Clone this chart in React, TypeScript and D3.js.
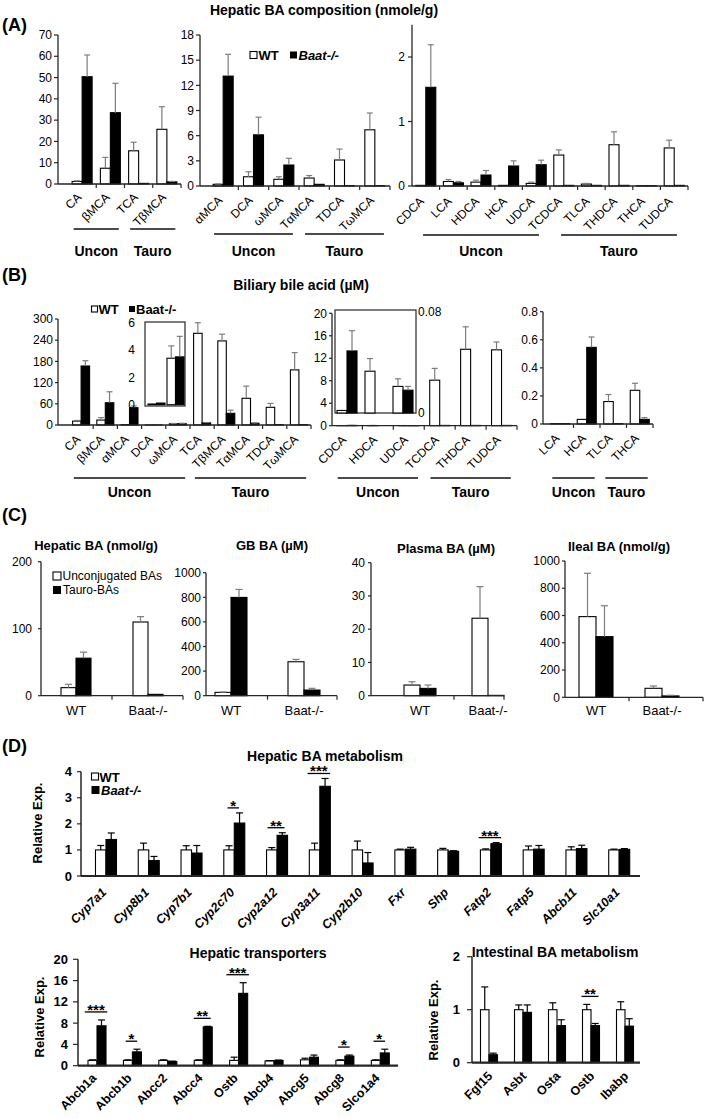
import React from "react";
import * as d3 from "d3";

const FONT = "'Liberation Sans', Arial, Helvetica, sans-serif";
const ERR_GRAY = "#7d7d7d";
const AXIS = "#262626";

// ===== Panel A: hepatic BA composition (nmole/g)
const a1Cats = ["CA", "βMCA", "TCA", "TβMCA"];
const a1WT = [1.2, 7.4, 15.6, 25.7];
const a1WTsem = [0.3, 5.1, 4.0, 10.6];
const a1KO = [50.4, 33.5, 0.3, 1.0];
const a1KOsem = [10.2, 13.8, 0, 0.2];
const a1Ticks = [0, 10, 20, 30, 40, 50, 60, 70];

const a2Cats = ["αMCA", "DCA", "ωMCA", "TαMCA", "TDCA", "TωMCA"];
const a2WT = [0.2, 1.1, 0.8, 0.95, 3.1, 6.7];
const a2WTsem = [0.05, 0.6, 0.3, 0.3, 1.3, 2.0];
const a2KO = [13.1, 6.1, 2.5, 0.2, 0.05, 0.05];
const a2KOsem = [2.6, 2.1, 0.8, 0, 0, 0];
const a2Ticks = [0, 3, 6, 9, 12, 15, 18];

const a3Cats = ["CDCA", "LCA", "HDCA", "HCA", "UDCA", "TCDCA", "TLCA", "THDCA", "THCA", "TUDCA"];
const a3WT = [0.01, 0.07, 0.06, 0.01, 0.04, 0.48, 0.03, 0.64, 0.005, 0.59];
const a3WTsem = [0, 0.03, 0.03, 0, 0.02, 0.08, 0.01, 0.2, 0, 0.12];
const a3KO = [1.53, 0.05, 0.17, 0.31, 0.33, 0.01, 0.01, 0.01, 0.005, 0.01];
const a3KOsem = [0.66, 0.02, 0.07, 0.08, 0.07, 0, 0, 0, 0, 0];
const a3Ticks = [0, 1, 2];

// ===== Panel B: biliary bile acid (µM)
const b1Cats = ["CA", "βMCA", "αMCA", "DCA", "ωMCA", "TCA", "TβMCA", "TαMCA", "TDCA", "TωMCA"];
const b1WT = [11, 14, 1, 0.05, 3.4, 259.5, 238, 75.5, 50, 156];
const b1WTsem = [2, 7, 0, 0, 0.9, 30, 19, 34.5, 11, 49];
const b1KO = [167, 63, 49, 0.12, 3.5, 6, 33, 5, 1, 1];
const b1KOsem = [15, 31, 5, 0, 1.5, 1, 9, 1, 0, 0];
const b1Ticks = [0, 60, 120, 180, 240, 300];
const b1InsetCats = ["DCA", "ωMCA"];
const b1InsetTicks = [0, 2, 4, 6];

const b2Cats = ["CDCA", "HDCA", "UDCA", "TCDCA", "THDCA", "TUDCA"];
const b2WT = [0.002, 0.033, 0.021, 8.1, 13.6, 13.5];
const b2WTsem = [0, 0.01, 0.006, 2.1, 4.0, 1.4];
const b2KO = [0.049, 0, 0.018, 0.05, 0.05, 0.05];
const b2KOsem = [0.016, 0, 0.003, 0, 0, 0];
const b2Ticks = [0, 4, 8, 12, 16, 20];
const b2InsetCats = ["CDCA", "HDCA", "UDCA"];
const b2InsetTicks = [0, 0.08];

const b3Cats = ["LCA", "HCA", "TLCA", "THCA"];
const b3WT = [0.003, 0.033, 0.16, 0.24];
const b3WTsem = [0, 0, 0.05, 0.05];
const b3KO = [0.003, 0.546, 0.003, 0.033];
const b3KOsem = [0, 0.074, 0, 0.012];
const b3Ticks = [0, 0.2, 0.4, 0.6, 0.8];

// ===== Panel C: totals (Unconjugated vs Tauro)
const cGroups = ["WT", "Baat-/-"];
const cHepUncon = [12, 110];
const cHepUnconSem = [5, 8];
const cHepTauro = [56, 2];
const cHepTauroSem = [9, 0];
const cHepTicks = [0, 100, 200];

const cGbUncon = [27, 276];
const cGbUnconSem = [3, 19];
const cGbTauro = [799, 46];
const cGbTauroSem = [65, 14];
const cGbTicks = [0, 200, 400, 600, 800, 1000];

const cPlUncon = [3.2, 23.3];
const cPlUnconSem = [1.0, 9.5];
const cPlTauro = [2.2, 0.1];
const cPlTauroSem = [1.0, 0];
const cPlTicks = [0, 10, 20, 30, 40];

const cIlUncon = [592, 66];
const cIlUnconSem = [318, 17];
const cIlTauro = [445, 10];
const cIlTauroSem = [227, 5];
const cIlTicks = [0, 200, 400, 600, 800, 1000];

// ===== Panel D: relative expression
const d1Genes = ["Cyp7a1", "Cyp8b1", "Cyp7b1", "Cyp2c70", "Cyp2a12", "Cyp3a11", "Cyp2b10", "Fxr", "Shp", "Fatp2", "Fatp5", "Abcb11", "Slc10a1"];
const d1WT = [1, 1, 1, 1, 1, 1, 1, 1, 1, 1, 1, 1, 1];
const d1WTsem = [0.17, 0.26, 0.16, 0.16, 0.09, 0.26, 0.34, 0.03, 0.06, 0.04, 0.15, 0.12, 0.03];
const d1KO = [1.4, 0.59, 0.88, 2.03, 1.56, 3.44, 0.5, 1.03, 0.95, 1.24, 1.03, 1.05, 1.02];
const d1KOsem = [0.25, 0.16, 0.29, 0.39, 0.1, 0.3, 0.4, 0.07, 0.02, 0.04, 0.14, 0.13, 0.03];
const d1Sig = ["", "", "", "*", "**", "***", "", "", "", "***", "", "", ""];
const d1Ticks = [0, 1, 2, 3, 4];

const d2Genes = ["Abcb1a", "Abcb1b", "Abcc2", "Abcc4", "Ostb", "Abcb4", "Abcg5", "Abcg8", "Slco1a4"];
const d2WT = [1, 1, 1, 1, 1, 0.9, 1.1, 1, 1];
const d2WTsem = [0.1, 0.1, 0.1, 0.1, 0.6, 0.05, 0.3, 0.1, 0.1];
const d2KO = [7.5, 2.6, 0.8, 7.3, 13.6, 1.0, 1.6, 1.8, 2.4];
const d2KOsem = [1.1, 0.5, 0.05, 0.1, 2.0, 0.05, 0.4, 0.2, 0.7];
const d2Sig = ["***", "*", "", "**", "***", "", "", "*", "*"];
const d2Ticks = [0, 4, 8, 12, 16, 20];

const d3Genes = ["Fgf15", "Asbt", "Osta", "Ostb", "Ibabp"];
const d3WT = [1, 1, 1, 1, 1];
const d3WTsem = [0.43, 0.09, 0.13, 0.1, 0.15];
const d3KO = [0.15, 0.95, 0.7, 0.7, 0.69];
const d3KOsem = [0.03, 0.14, 0.11, 0.04, 0.14];
const d3Sig = ["", "", "", "**", ""];
const d3Ticks = [0, 1, 2];

type BarProps = {
  cats: string[];
  wt: number[];
  wtSem: number[];
  ko: number[];
  koSem: number[];
  band: [number, number];
  axisX?: number;
  axisEnd?: number;
  base: number;
  top: number;
  max: number;
  ticks?: number[];
  fmt?: (d: number) => string;
  barW: number;
  errColor?: string;
  capW?: number;
  tickFont?: number;
  tickBold?: boolean;
  tickLen?: number;
  tickGap?: number;
  labelMode?: "rot" | "flat" | "none";
  labelFont?: number;
  labelBold?: boolean;
  labelItalic?: boolean;
  labelDx?: number;
  labelDy?: number;
  boundary?: "bands" | "mid" | "none";
  showY?: boolean;
  showX?: boolean;
  xAxisW?: number;
  yAxisW?: number;
  sig?: string[];
  sigGap?: number;
};

function BarChart(p: BarProps) {
  const y = d3.scaleLinear().domain([0, p.max]).range([p.base, p.top]);
  const x = d3.scaleBand<string>().domain(p.cats).range(p.band);
  const bw = x.bandwidth();
  const cx = (c: string) => (x(c) as number) + bw / 2;
  const fmt = p.fmt ?? ((d: number) => String(d));
  const errColor = p.errColor ?? ERR_GRAY;
  const capW = p.capW ?? 6;
  const tickLen = p.tickLen ?? 4;
  const tickGap = p.tickGap ?? 6;
  const axisX = p.axisX ?? p.band[0];
  const axisEnd = p.axisEnd ?? p.band[1];
  const showY = p.showY ?? true;
  const showX = p.showX ?? true;
  const labelMode = p.labelMode ?? "rot";
  const boundary = p.boundary ?? "bands";
  const series = [
    { key: "wt", vals: p.wt, sem: p.wtSem, fill: "#ffffff", off: -p.barW },
    { key: "ko", vals: p.ko, sem: p.koSem, fill: "#000000", off: 0 },
  ];
  let bTicks: number[] = [];
  if (boundary === "bands") bTicks = p.cats.map((c) => (x(c) as number) + bw);
  if (boundary === "mid") {
    bTicks = p.cats.slice(1).map((c, i) => (cx(p.cats[i]) + cx(c)) / 2);
    bTicks.push(axisEnd);
  }
  return (
    <g>
      {series.map((s) =>
        p.cats.map((c, i) => {
          const v = s.vals[i];
          return (
            <rect
              key={s.key + i}
              x={cx(c) + s.off}
              y={y(v)}
              width={p.barW}
              height={Math.max(0, p.base - y(v))}
              fill={s.fill}
              stroke="#000"
              strokeWidth={1.1}
            />
          );
        })
      )}
      {series.map((s) =>
        p.cats.map((c, i) => {
          const v = s.vals[i];
          const e = s.sem[i];
          if (!(e > 0)) return null;
          const xc = cx(c) + s.off + p.barW / 2;
          return (
            <g key={"e" + s.key + i} stroke={errColor} strokeWidth={1.2}>
              <line x1={xc} x2={xc} y1={y(v)} y2={y(v + e)} />
              <line x1={xc - capW / 2} x2={xc + capW / 2} y1={y(v + e)} y2={y(v + e)} />
            </g>
          );
        })
      )}
      {p.sig &&
        p.cats.map((c, i) => {
          const s = p.sig![i];
          if (!s) return null;
          const t = Math.min(y(p.wt[i] + p.wtSem[i]), y(p.ko[i] + p.koSem[i]));
          const ly = t - (p.sigGap ?? 5);
          const w = 6 + 5.5 * s.length;
          const xc = cx(c) - 1;
          return (
            <g key={"s" + i}>
              <line x1={xc - w / 2} x2={xc + w / 2} y1={ly} y2={ly} stroke="#000" strokeWidth={1.3} />
              <text x={xc} y={ly + 3} textAnchor="middle" fontSize={15} fontWeight="bold">
                {s}
              </text>
            </g>
          );
        })}
      {showY && (
        <g>
          <line x1={axisX} x2={axisX} y1={p.base} y2={p.top} stroke={AXIS} strokeWidth={p.yAxisW ?? 1.3} />
          {(p.ticks ?? []).map((t) => (
            <g key={"t" + t}>
              <line x1={axisX - tickLen} x2={axisX} y1={y(t)} y2={y(t)} stroke={AXIS} strokeWidth={1.2} />
              <text
                x={axisX - tickGap}
                y={y(t)}
                dy="0.35em"
                textAnchor="end"
                fontSize={p.tickFont ?? 12}
                fontWeight={p.tickBold ? "bold" : "normal"}
              >
                {fmt(t)}
              </text>
            </g>
          ))}
        </g>
      )}
      {showX && (
        <g>
          <line x1={axisX} x2={axisEnd} y1={p.base} y2={p.base} stroke={AXIS} strokeWidth={p.xAxisW ?? 1.3} />
          {bTicks.map((bx, i) => (
            <line key={"bt" + i} x1={bx} x2={bx} y1={p.base} y2={p.base + 4} stroke={AXIS} strokeWidth={1.2} />
          ))}
        </g>
      )}
      {labelMode === "rot" &&
        p.cats.map((c) => (
          <text
            key={"l" + c}
            transform={`translate(${cx(c) + (p.labelDx ?? -3)},${p.base + (p.labelDy ?? 12)}) rotate(-45)`}
            dy="0.35em"
            textAnchor="end"
            fontSize={p.labelFont ?? 12}
            fontWeight={p.labelBold ? "bold" : "normal"}
            fontStyle={p.labelItalic ? "italic" : "normal"}
          >
            {c}
          </text>
        ))}
      {labelMode === "flat" &&
        p.cats.map((c) => (
          <text
            key={"l" + c}
            x={cx(c)}
            y={p.base + (p.labelDy ?? 14.5)}
            dy="0.35em"
            textAnchor="middle"
            fontSize={p.labelFont ?? 13}
          >
            {c}
          </text>
        ))}
    </g>
  );
}

function Brackets(p: { cats: string[]; band: [number, number]; lineY: number; textY: number; inset: number }) {
  const x = d3.scaleBand<string>().domain(p.cats).range(p.band);
  const bw = x.bandwidth();
  const grp = (c: string) => (c.startsWith("T") ? "Tauro" : "Uncon");
  const names = ["Uncon", "Tauro"];
  return (
    <g>
      {names.map((g) => {
        const members = p.cats.filter((c) => grp(c) === g);
        if (!members.length) return null;
        const x0 = (x(members[0]) as number) + p.inset * bw;
        const x1 = (x(members[members.length - 1]) as number) + (1 - p.inset) * bw;
        return (
          <g key={g}>
            <line x1={x0} x2={x1} y1={p.lineY} y2={p.lineY} stroke="#111" strokeWidth={1.4} />
            <text x={(x0 + x1) / 2} y={p.textY} dy="0.35em" textAnchor="middle" fontSize={14} fontWeight="bold">
              {g}
            </text>
          </g>
        );
      })}
    </g>
  );
}

function Inset(p: {
  cats: string[];
  src: string[];
  wt: number[];
  wtSem: number[];
  ko: number[];
  koSem: number[];
  box: [number, number, number, number];
  band: [number, number];
  base: number;
  top: number;
  max: number;
  ticks: number[];
  fmt: (d: number) => string;
  labelX: number;
  anchor: "start" | "end";
  barW: number;
}) {
  const pick = (arr: number[]) => p.cats.map((c) => arr[p.src.indexOf(c)]);
  const y = d3.scaleLinear().domain([0, p.max]).range([p.base, p.top]);
  const [x0, x1, y0, y1] = p.box;
  return (
    <g>
      <rect x={x0} y={y0} width={x1 - x0} height={y1 - y0} fill="#fff" stroke={AXIS} strokeWidth={1.2} />
      <BarChart
        cats={p.cats}
        wt={pick(p.wt)}
        wtSem={pick(p.wtSem)}
        ko={pick(p.ko)}
        koSem={pick(p.koSem)}
        band={p.band}
        base={p.base}
        top={p.top}
        max={p.max}
        barW={p.barW}
        showX={false}
        showY={false}
        labelMode="none"
        boundary="none"
      />
      {p.ticks.map((t) => (
        <text key={t} x={p.labelX} y={y(t)} dy="0.35em" textAnchor={p.anchor} fontSize={12}>
          {p.fmt(t)}
        </text>
      ))}
    </g>
  );
}

const fmt1 = (d: number) => (d === 0 ? "0" : d.toFixed(1));

export default function App() {
  return (
    <svg
      width={709}
      height={1119}
      viewBox="0 0 709 1119"
      style={{ position: "absolute", left: 0, top: 0, background: "#fff" }}
      fontFamily={FONT}
    >
      <rect width={709} height={1119} fill="#fff" />

      {/* ================= Panel A ================= */}
      <text x={2} y={25} dy="0.35em" fontSize={18} fontWeight="bold">(A)</text>
      <text x={324} y={10} dy="0.35em" textAnchor="middle" fontSize={14} fontWeight="bold">
        Hepatic BA composition (nmole/g)
      </text>
      <BarChart cats={a1Cats} wt={a1WT} wtSem={a1WTsem} ko={a1KO} koSem={a1KOsem}
        band={[68, 181]} axisX={58} axisEnd={181} base={184} top={35} max={70} ticks={a1Ticks}
        barW={10} tickGap={6} labelDx={-3} labelDy={11} />
      <BarChart cats={a2Cats} wt={a2WT} wtSem={a2WTsem} ko={a2KO} koSem={a2KOsem}
        band={[208, 390]} axisX={200} axisEnd={390} base={186} top={35} max={18} ticks={a2Ticks}
        barW={10} tickGap={6} labelDx={-3} labelDy={12} />
      <BarChart cats={a3Cats} wt={a3WT} wtSem={a3WTsem} ko={a3KO} koSem={a3KOsem}
        band={[412, 688]} axisX={412} axisEnd={688} base={186} top={24.75} max={2.5} ticks={a3Ticks}
        barW={10} tickGap={7} labelDx={-4} labelDy={13} />
      <Brackets cats={a1Cats} band={[68, 181]} lineY={229} textY={251} inset={0.2} />
      <Brackets cats={a2Cats} band={[208, 390]} lineY={234} textY={251} inset={0.2} />
      <Brackets cats={a3Cats} band={[412, 688]} lineY={235} textY={251} inset={0.4} />
      {/* legend A */}
      <rect x={250} y={51.5} width={7} height={7} fill="#fff" stroke="#000" strokeWidth={1.1} />
      <text x={258.5} y={55} dy="0.35em" fontSize={13} fontWeight="bold">WT</text>
      <rect x={290} y={51.5} width={7} height={7} fill="#000" />
      <text x={298.5} y={55} dy="0.35em" fontSize={13} fontWeight="bold" fontStyle="italic">Baat-/-</text>

      {/* ================= Panel B ================= */}
      <text x={2} y={275} dy="0.35em" fontSize={18} fontWeight="bold">(B)</text>
      <text x={301} y={285} dy="0.35em" textAnchor="middle" fontSize={14} fontWeight="bold">
        Biliary bile acid (µM)
      </text>
      <rect x={91.5} y={306} width={6} height={6} fill="#fff" stroke="#000" strokeWidth={1.1} />
      <text x={98.5} y={309} dy="0.35em" fontSize={13} fontWeight="bold">WT</text>
      <rect x={129} y={306} width={6} height={6} fill="#000" />
      <text x={136} y={309} dy="0.35em" fontSize={13} fontWeight="bold">Baat-/-</text>

      <BarChart cats={b1Cats} wt={b1WT} wtSem={b1WTsem} ko={b1KO} koSem={b1KOsem}
        band={[69, 311]} axisX={58} axisEnd={311} base={425} top={319} max={300} ticks={b1Ticks}
        barW={8.5} tickLen={3} tickGap={5} labelDx={-3} labelDy={12} />
      <Inset cats={b1InsetCats} src={b1Cats} wt={b1WT} wtSem={b1WTsem} ko={b1KO} koSem={b1KOsem}
        box={[145, 185, 322, 406]} band={[147, 185]} base={404.7} top={322.7} max={6}
        ticks={b1InsetTicks} fmt={(d) => String(d)} labelX={135} anchor="end" barW={8.5} />

      <BarChart cats={b2Cats} wt={b2WT} wtSem={b2WTsem} ko={b2KO} koSem={b2KOsem}
        band={[331.5, 517]} axisX={332} axisEnd={517} base={425.7} top={313.3} max={20} ticks={b2Ticks}
        barW={10} tickLen={3} tickGap={5} labelDx={-3} labelDy={12} />
      <Inset cats={b2InsetCats} src={b2Cats} wt={b2WT} wtSem={b2WTsem} ko={b2KO} koSem={b2KOsem}
        box={[335, 416, 310, 413]} band={[333, 417]} base={413} top={311.7} max={0.08}
        ticks={b2InsetTicks} fmt={(d) => (d === 0 ? "0" : d.toFixed(2))} labelX={418} anchor="start" barW={10} />

      <BarChart cats={b3Cats} wt={b3WT} wtSem={b3WTsem} ko={b3KO} koSem={b3KOsem}
        band={[547, 653]} axisX={543} axisEnd={653} base={424} top={311.7} max={0.8} ticks={b3Ticks}
        fmt={fmt1} barW={9.5} tickLen={3} tickGap={5} labelDx={-3} labelDy={12} />

      <Brackets cats={b1Cats} band={[69, 311]} lineY={478} textY={492} inset={0.2} />
      <Brackets cats={b2Cats} band={[331.5, 517]} lineY={478} textY={492} inset={0.2} />
      <Brackets cats={b3Cats} band={[547, 653]} lineY={478} textY={492} inset={0.2} />

      {/* ================= Panel C ================= */}
      <text x={2} y={515} dy="0.35em" fontSize={18} fontWeight="bold">(C)</text>
      <text x={96} y={545} dy="0.35em" textAnchor="middle" fontSize={13} fontWeight="bold">Hepatic BA (nmol/g)</text>
      <text x={272} y={545} dy="0.35em" textAnchor="middle" fontSize={13} fontWeight="bold">GB BA (µM)</text>
      <text x={446} y={548} dy="0.35em" textAnchor="middle" fontSize={13} fontWeight="bold">Plasma BA (µM)</text>
      <text x={619} y={546} dy="0.35em" textAnchor="middle" fontSize={13} fontWeight="bold">Ileal BA (nmol/g)</text>

      <BarChart cats={cGroups} wt={cHepUncon} wtSem={cHepUnconSem} ko={cHepTauro} koSem={cHepTauroSem}
        band={[40, 184]} axisX={41} axisEnd={183} base={695.7} top={561.7} max={200} ticks={cHepTicks}
        barW={15} tickLen={3} tickGap={9} labelMode="flat" boundary="mid" labelDy={14.5} capW={7} />
      <BarChart cats={cGroups} wt={cGbUncon} wtSem={cGbUnconSem} ko={cGbTauro} koSem={cGbTauroSem}
        band={[194.5, 340.5]} axisX={206} axisEnd={337} base={695.7} top={572.7} max={1000} ticks={cGbTicks}
        barW={16} tickLen={3} tickGap={5} labelMode="flat" boundary="mid" labelDy={14.5} capW={7} />
      <BarChart cats={cGroups} wt={cPlUncon} wtSem={cPlUnconSem} ko={cPlTauro} koSem={cPlTauroSem}
        band={[386, 522]} axisX={371} axisEnd={504} base={695.7} top={562.7} max={40} ticks={cPlTicks}
        barW={16} tickLen={3} tickGap={6} labelMode="flat" boundary="mid" labelDy={14.5} capW={7} />
      <BarChart cats={cGroups} wt={cIlUncon} wtSem={cIlUnconSem} ko={cIlTauro} koSem={cIlTauroSem}
        band={[563, 695]} axisX={565} axisEnd={703} base={697.3} top={561} max={1000} ticks={cIlTicks}
        barW={17} tickLen={3} tickGap={5} labelMode="flat" boundary="mid" labelDy={13} capW={7} />
      {/* legend C */}
      <rect x={53} y={572} width={8} height={8} fill="#fff" stroke="#000" strokeWidth={1.1} />
      <text x={62.5} y={576} dy="0.35em" fontSize={12}>Unconjugated BAs</text>
      <rect x={53} y={586} width={8} height={8} fill="#000" />
      <text x={63} y={590} dy="0.35em" fontSize={12}>Tauro-BAs</text>

      {/* ================= Panel D ================= */}
      <text x={2} y={746} dy="0.35em" fontSize={18} fontWeight="bold">(D)</text>
      <text x={325} y={756} dy="0.35em" textAnchor="middle" fontSize={14} fontWeight="bold">Hepatic BA metabolism</text>
      <text transform="translate(37,823) rotate(-90)" dy="0.35em" textAnchor="middle" fontSize={13} fontWeight="bold">
        Relative Exp.
      </text>
      <BarChart cats={d1Genes} wt={d1WT} wtSem={d1WTsem} ko={d1KO} koSem={d1KOsem}
        band={[84.6, 640.6]} axisX={81} axisEnd={640} base={876} top={771.7} max={4} ticks={d1Ticks}
        barW={10.5} errColor="#000" capW={7} tickFont={13} tickBold tickLen={4} tickGap={9}
        labelFont={12.5} labelBold labelItalic labelDx={-2} labelDy={14}
        boundary="none" xAxisW={2.2} yAxisW={1.5} sig={d1Sig} sigGap={5} />
      <rect x={91.5} y={773} width={7} height={7} fill="#fff" stroke="#000" strokeWidth={1.1} />
      <text x={99.5} y={777} dy="0.35em" fontSize={13} fontWeight="bold">WT</text>
      <rect x={91.5} y={786} width={8} height={8} fill="#000" />
      <text x={101} y={790} dy="0.35em" fontSize={13} fontWeight="bold" fontStyle="italic">Baat-/-</text>

      <text x={258} y={953} dy="0.35em" textAnchor="middle" fontSize={14} fontWeight="bold">Hepatic transporters</text>
      <text transform="translate(39,1017) rotate(-90)" dy="0.35em" textAnchor="middle" fontSize={13} fontWeight="bold">
        Relative Exp.
      </text>
      <BarChart cats={d2Genes} wt={d2WT} wtSem={d2WTsem} ko={d2KO} koSem={d2KOsem}
        band={[79.3, 398]} axisX={78} axisEnd={398} base={1065.7} top={959.3} max={20} ticks={d2Ticks}
        barW={9} errColor="#000" capW={7} tickFont={13} tickBold tickLen={5} tickGap={10}
        labelFont={12.5} labelBold labelDx={-3} labelDy={10}
        boundary="none" xAxisW={2.2} yAxisW={1.5} sig={d2Sig} sigGap={8} />

      <text x={555} y={952} dy="0.35em" textAnchor="middle" fontSize={14} fontWeight="bold">Intestinal BA metabolism</text>
      <text transform="translate(433,1020) rotate(-90)" dy="0.35em" textAnchor="middle" fontSize={13} fontWeight="bold">
        Relative Exp.
      </text>
      <BarChart cats={d3Genes} wt={d3WT} wtSem={d3WTsem} ko={d3KO} koSem={d3KOsem}
        band={[472, 642]} axisX={472} axisEnd={640} base={1062.7} top={956.7} max={2} ticks={d3Ticks}
        barW={8.5} errColor="#000" capW={7} tickFont={13} tickBold tickLen={5} tickGap={12}
        labelFont={12.5} labelBold labelDx={1} labelDy={11}
        boundary="none" xAxisW={2.2} yAxisW={1.5} sig={d3Sig} sigGap={8} />
    </svg>
  );
}
